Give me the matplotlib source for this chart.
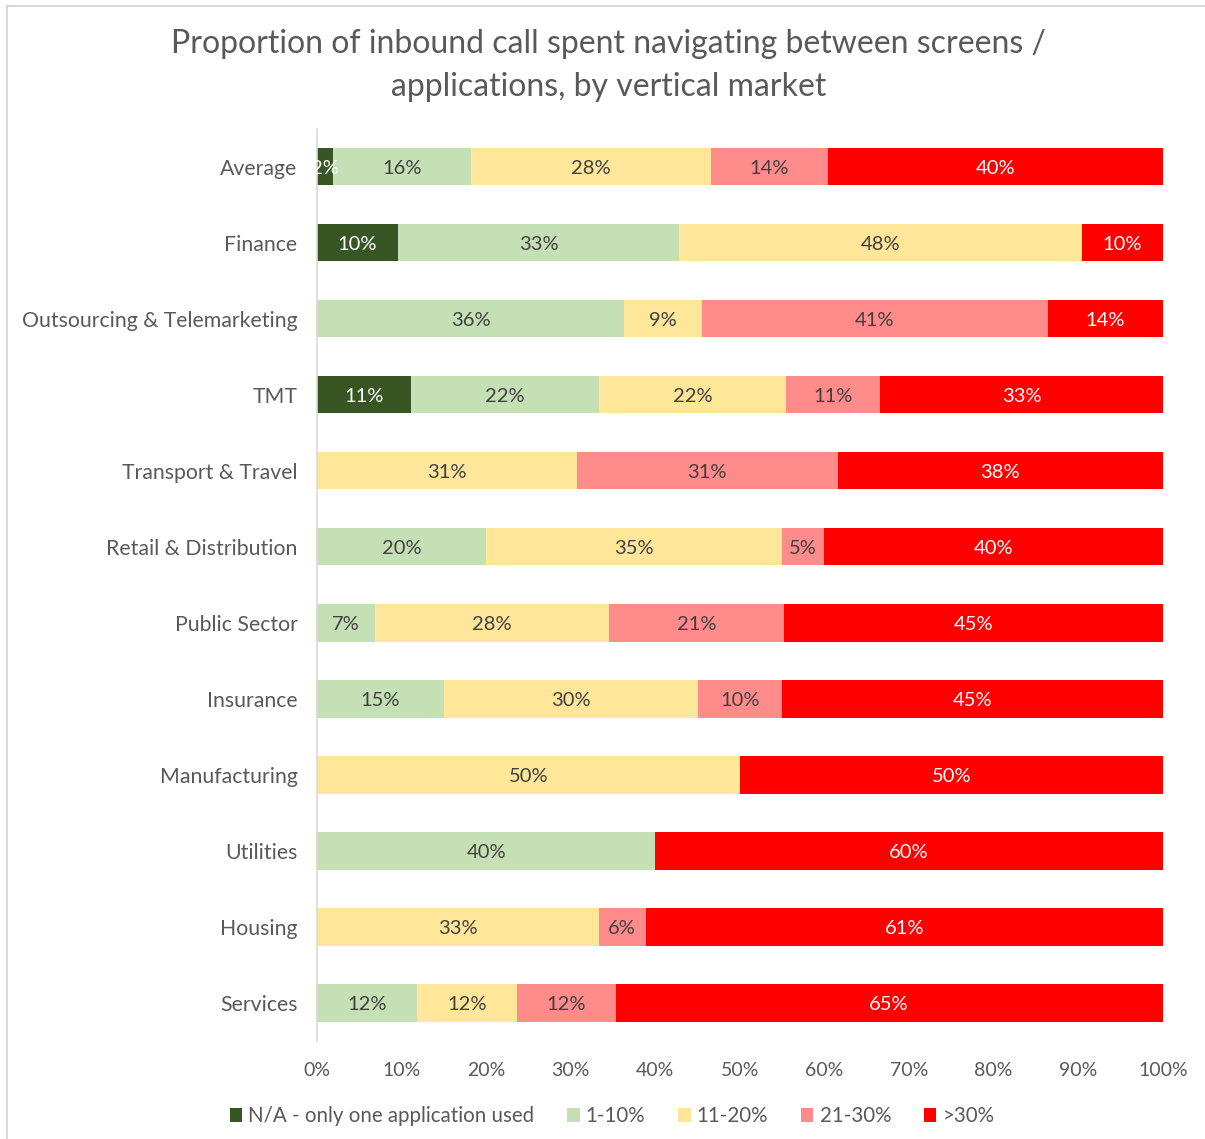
import numpy as np
import matplotlib.pyplot as plt
from matplotlib.lines import Line2D
from matplotlib.patches import Patch

plt.rcParams['font.family'] = ['Lato', 'DejaVu Sans']

categories = ['Average', 'Finance', 'Outsourcing & Telemarketing', 'TMT',
              'Transport & Travel', 'Retail & Distribution', 'Public Sector',
              'Insurance', 'Manufacturing', 'Utilities', 'Housing', 'Services']
series_names = ['N/A - only one application used', '1-10%', '11-20%', '21-30%', '>30%']
na_only = [1.9, 9.6, 0, 11.1, 0, 0, 0, 0, 0, 0, 0, 0]
pct_1_10 = [16.3, 33.2, 36.3, 22.2, 0, 20.0, 6.9, 15.0, 0, 40.0, 0, 11.8]
pct_11_20 = [28.4, 47.6, 9.2, 22.2, 30.7, 35.0, 27.6, 30.0, 50.0, 0, 33.3, 11.8]
pct_21_30 = [13.8, 0, 40.9, 11.1, 30.9, 5.0, 20.7, 10.0, 0, 0, 5.6, 11.7]
pct_over_30 = [39.6, 9.6, 13.6, 33.4, 38.4, 40.0, 44.8, 45.0, 50.0, 60.0, 61.1, 64.7]
x_ticks = [0, 10, 20, 30, 40, 50, 60, 70, 80, 90, 100]

colors = ['#375623', '#C5E0B4', '#FFE699', '#FF8B8B', '#FF0000']
text_colors = ['white', '#404040', '#404040', '#404040', 'white']
series = [na_only, pct_1_10, pct_11_20, pct_21_30, pct_over_30]

fig = plt.figure(figsize=(12.05, 11.39), dpi=100)
ax = fig.add_axes([0.263, 0.086, 0.702, 0.801])

y = np.arange(len(categories))
left = np.zeros(len(categories))
for vals, col, tcol, name in zip(series, colors, text_colors, series_names):
    vals = np.array(vals, dtype=float)
    ax.barh(y, vals, left=left, height=0.49, color=col, label=name)
    for yi, (l, v) in enumerate(zip(left, vals)):
        if v > 0:
            ax.text(l + v / 2, yi, f"{v:.0f}%", ha='center', va='center_baseline',
                    color=tcol, fontsize=14.5)
    left += vals

ax.set_xlim(0, 100)
ax.set_ylim(len(categories) - 0.5, -0.5)
ax.set_yticks(y)
ax.set_yticklabels(categories, fontsize=15.3, color='#595959')
ax.set_xticks(x_ticks)
ax.set_xticklabels([f"{t}%" for t in x_ticks], fontsize=14, color='#595959')
ax.tick_params(axis='both', length=0)
ax.tick_params(axis='y', pad=14)
ax.tick_params(axis='x', pad=15)
for s in ['top', 'right', 'bottom']:
    ax.spines[s].set_visible(False)
ax.spines['left'].set_color('#D9D9D9')
ax.spines['left'].set_linewidth(1.2)

fig.text(0.505, 0.961, 'Proportion of inbound call spent navigating between screens /',
         ha='center', va='center', fontsize=23, color='#595959')
fig.text(0.505, 0.924, 'applications, by vertical market',
         ha='center', va='center', fontsize=23, color='#595959')

handles = [Patch(facecolor=c, edgecolor='none') for c in colors]
fig.legend(handles, series_names, loc='center', bbox_to_anchor=(0.508, 0.020),
           ncol=5, frameon=False, fontsize=14.8, handlelength=0.6, handleheight=0.6,
           handletextpad=0.3, columnspacing=1.6, labelcolor='#595959')

# light frame around the chart
fig.add_artist(Line2D([0.006, 0.006], [0, 0.995], transform=fig.transFigure,
                      color='#D9D9D9', lw=1.5))
fig.add_artist(Line2D([0.006, 1], [0.995, 0.995], transform=fig.transFigure,
                      color='#D9D9D9', lw=1.5))

fig.savefig('out.png', dpi=100, facecolor='white')
